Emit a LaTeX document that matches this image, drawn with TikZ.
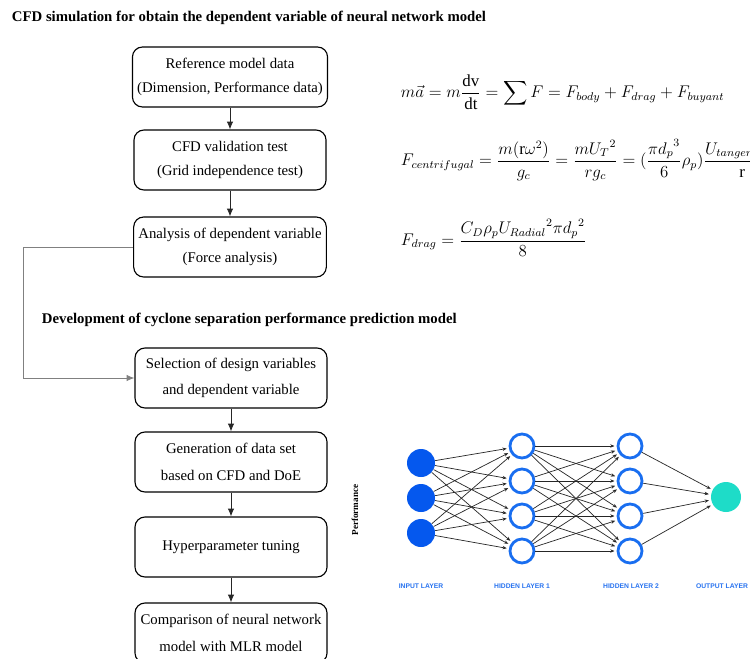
\documentclass[tikz,border=0pt]{standalone}
\usepackage{amsmath}
\usepackage{amssymb}
\usepackage{fontspec}
\setmainfont{Liberation Serif}
\newfontfamily\layerfont{Liberation Sans}
\usetikzlibrary{arrows.meta}

\definecolor{inputblue}{RGB}{5,88,238}
\definecolor{hiddenblue}{RGB}{25,110,240}
\definecolor{outputgreen}{RGB}{30,220,200}
\definecolor{layerblue}{RGB}{40,115,240}

\tikzset{
  flowbox/.style={draw, line width=0.8pt, rounded corners=0.25cm, minimum width=4.8cm,
    minimum height=1.5cm, align=center, font=\fontsize{10.5}{17}\selectfont},
  flowarrow/.style={-{Latex[length=5.5pt,width=4.5pt]}, line width=0.6pt, black!85},
  inputneuron/.style={circle, fill=inputblue, minimum size=0.7cm, inner sep=0pt},
  hiddenneuron/.style={circle, draw=hiddenblue, line width=2pt, fill=white, minimum size=0.6cm, inner sep=0pt},
  outputneuron/.style={circle, fill=outputgreen, minimum size=0.75cm, inner sep=0pt},
  nnarrow/.style={-{Stealth[length=3pt,width=2.4pt]}, line width=0.5pt, black!85, shorten >=1.5pt},
  layerlabel/.style={text=layerblue, font=\layerfont\bfseries\fontsize{4.8}{5}\selectfont}
}

\begin{document}
\begin{tikzpicture}[x=0.025cm, y=-0.025cm]
        \path[use as bounding box, clip] (0,0) rectangle (750,658);
        \fill[white] (0,0) rectangle (750,658);

        % Headings
        \node[anchor=west, font=\bfseries\fontsize{10.5}{12}\selectfont] (cfdtitle) at (7,18) {CFD simulation for obtain the dependent variable of neural network model};
        \node[anchor=west, font=\bfseries\fontsize{10.5}{12}\selectfont] (devtitle) at (37,320) {Development of cyclone separation performance prediction model};

        % Flow chart
        \node[flowbox] (refdata) at (230,77) {Reference model data\\(Dimension, Performance data)};
        \node[flowbox] (validation) at (230,160) {CFD validation test\\(Grid independence test)};
        \node[flowbox] (force) at (230,247) {Analysis of dependent variable\\(Force analysis)};
        \node[flowbox, font=\fontsize{10.5}{19}\selectfont] (selection) at (231,378) {Selection of design variables\\and dependent variable};
        \node[flowbox, font=\fontsize{10.5}{19}\selectfont] (dataset) at (231,462) {Generation of data set\\based on CFD and DoE};
        \node[flowbox] (tuning) at (231,547) {Hyperparameter tuning};
        \node[flowbox, font=\fontsize{10.5}{19}\selectfont] (comparison) at (231,633) {Comparison of neural network\\model with MLR model};

        \draw[flowarrow] (refdata) -- (validation);
        \draw[flowarrow] (validation) -- (force);
        \draw[flowarrow] (selection) -- (dataset);
        \draw[flowarrow] (dataset) -- (tuning);
        \draw[flowarrow] (tuning) -- (comparison);
        \draw[flowarrow, gray] (force.west) -- ++(-110,0) |- (selection.west);

        % Force equations
        \node[anchor=west, font=\large] (eqmotion) at (396,92) {$m\vec{a} = m\dfrac{\mathrm{dv}}{\mathrm{dt}} = \displaystyle\sum F = F_{body} + F_{drag} + F_{buyant}$};
        \node[anchor=west, font=\large] (eqcentri) at (396,160) {$F_{centrifugal} = \dfrac{m(\mathrm{r}\omega^2)}{g_c} = \dfrac{m{U_T}^2}{r g_c} = (\dfrac{\pi {d_p}^3}{6}\rho_p)\dfrac{{U_{tangential}}^2}{\mathrm{r}}$};
        \node[anchor=west, font=\large] (eqdrag) at (396,238) {$F_{drag} = \dfrac{C_D\rho_p {U_{Radial}}^2 \pi {d_p}^2}{8}$};

        % Neural network
        \node[rotate=90, font=\bfseries\fontsize{6.5}{7}\selectfont] (perf) at (355,510) {Performance};
        \foreach \i/\y in {1/463,2/498,3/533}
          \node[inputneuron] (in\i) at (421,\y) {};
        \foreach \i/\y in {1/446,2/481,3/516,4/551} {
          \node[hiddenneuron] (ha\i) at (522,\y) {};
          \node[hiddenneuron] (hb\i) at (630,\y) {};
        }
        \node[outputneuron] (out) at (726,497) {};

        \foreach \i in {1,...,3}
          \foreach \j in {1,...,4}
            \draw[nnarrow] (in\i) -- (ha\j);
        \foreach \i in {1,...,4}
          \foreach \j in {1,...,4}
            \draw[nnarrow] (ha\i) -- (hb\j);
        \foreach \i in {1,...,4}
          \draw[nnarrow] (hb\i) -- (out);

        \node[layerlabel] (inlabel) at (421,586) {INPUT LAYER};
        \node[layerlabel] (halabel) at (522,586) {HIDDEN LAYER 1};
        \node[layerlabel] (hblabel) at (631,586) {HIDDEN LAYER 2};
        \node[layerlabel] (outlabel) at (722,586) {OUTPUT LAYER};
\end{tikzpicture}
\end{document}
